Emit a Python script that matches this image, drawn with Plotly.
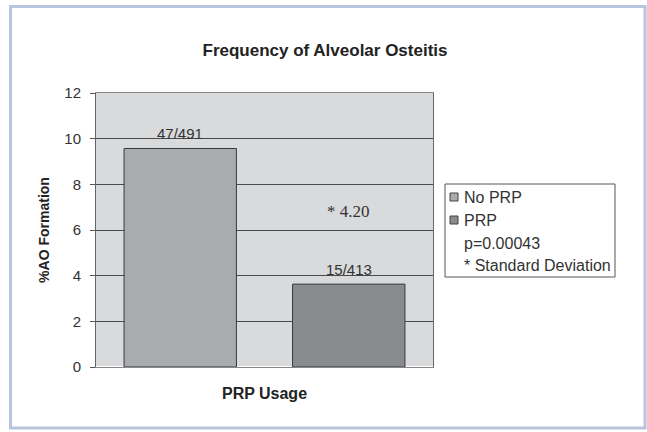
import plotly.graph_objects as go

categories = ["No PRP", "PRP"]
values = [9.57, 3.63]
bar_labels = ["47/491", "15/413"]
bar_colors = ["#a9abae", "#898b8e"]
sd_label = "* 4.20"
sd_y = 6.8
extra_legend = ["p=0.00043", "* Standard Deviation"]
y_ticks = [0, 2, 4, 6, 8, 10, 12]

W, H = 647, 432
L, R, T, B = 96, 214, 93, 65
pw, ph = W - L - R, H - T - B

def px_x(p):
    return (p - L) / pw

def px_y(p):
    return (H - B - p) / ph

fig = go.Figure()
for cat, val, col in zip(categories, values, bar_colors):
    fig.add_trace(go.Bar(
        x=[cat], y=[val], name=cat,
        marker=dict(color=col, line=dict(color="#3a3a3a", width=1)),
        showlegend=False,
    ))

for cat, val, lab in zip(categories, values, bar_labels):
    fig.add_annotation(x=cat, y=val, text=lab, showarrow=False,
                       yanchor="bottom", yshift=4,
                       font=dict(family="Arial, Liberation Sans", size=15, color="#333"))
fig.add_annotation(x=categories[1], y=sd_y, text=sd_label, showarrow=False,
                   font=dict(family="Liberation Serif", size=17, color="#333"))

# outer light-blue frame
fig.add_shape(type="rect", xref="paper", yref="paper",
              x0=px_x(10.5), x1=px_x(645), y0=px_y(428), y1=px_y(6.5),
              line=dict(color="#b7c6de", width=3), layer="below")

# legend box (drawn manually to match the reference layout)
fig.add_shape(type="rect", xref="paper", yref="paper",
              x0=px_x(445), x1=px_x(615), y0=px_y(277), y1=px_y(184),
              line=dict(color="#555", width=1), fillcolor="white")
legend_rows = [197, 220, 243, 265]
entries = categories + extra_legend
for i, (name, yy) in enumerate(zip(entries, legend_rows)):
    if i < len(bar_colors):
        fig.add_shape(type="rect", xref="paper", yref="paper",
                      x0=px_x(450), x1=px_x(458), y0=px_y(yy + 4), y1=px_y(yy - 4),
                      line=dict(color="#444", width=1), fillcolor=bar_colors[i])
    fig.add_annotation(xref="paper", yref="paper", x=px_x(462), y=px_y(yy),
                       xanchor="left", yanchor="middle", text=name, showarrow=False,
                       font=dict(family="Arial, Liberation Sans", size=16, color="#333"))

fig.update_layout(
    width=W, height=H,
    margin=dict(l=L, r=R, t=T, b=B),
    paper_bgcolor="white",
    plot_bgcolor="#d9dadc",
    barmode="overlay",
    bargap=0.333,
    showlegend=False,
    font=dict(family="Arial, Liberation Sans", size=13, color="#333"),
    title=dict(text="<b>Frequency of Alveolar Osteitis</b>",
               xref="container", x=325 / W, xanchor="center",
               yref="container", y=1 - 50 / H, yanchor="middle",
               font=dict(size=17, color="#222")),
    xaxis=dict(showticklabels=False, ticks="", showgrid=False,
               title=dict(text="<b>PRP Usage</b>", standoff=20,
                          font=dict(size=16, color="#222")),
               showline=True, linecolor="#888", linewidth=1, mirror=True,
               range=[-0.5, 1.5]),
    yaxis=dict(range=[0, 12], tickvals=y_ticks, ticks="outside", ticklen=5,
               tickcolor="#555", showgrid=True, gridcolor="#4a4a4a", gridwidth=1,
               showline=True, linecolor="#666", linewidth=1, mirror=True,
               ticklabelstandoff=6,
               tickfont=dict(size=15, color="#333"),
               title=dict(text="<b>%AO Formation</b>", standoff=11,
                          font=dict(size=14, color="#222"))),
)

fig.write_html("out.html", post_script="document.body.style.margin='0px';",
               config={"displayModeBar": False})
